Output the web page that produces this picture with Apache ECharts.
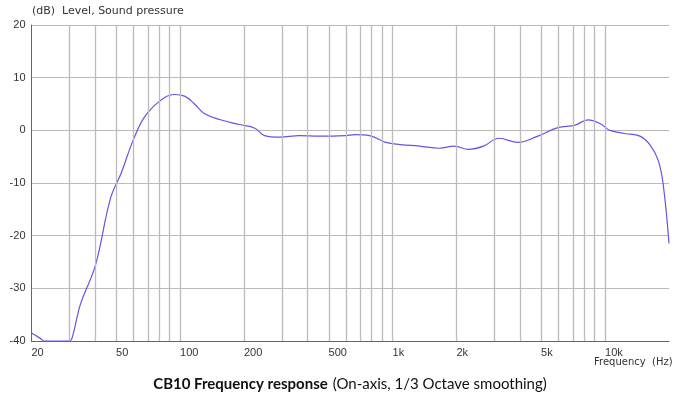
<!DOCTYPE html>
<html><head><meta charset="utf-8">
<script src="https://cdn.jsdelivr.net/npm/echarts@6/dist/echarts.min.js"></script>
<style>html,body{margin:0;padding:0;background:#fff}#c{width:700px;height:405px}</style>
</head><body><div id="c"></div>
<script>
const freqs = [20,22,23,26,30,31,34,40,47,53,60,68,80,94,105,117,130,155,190,225,250,295,365,450,600,665,780,930,1090,1340,1660,1950,2280,2680,3170,3900,4830,6000,7230,8320,9460,10540,12400,14600,16300,17800,18800,20000];
const levels = [-38.5,-39.5,-40,-40,-40,-39.5,-33,-25.6,-13,-8,-2,2.5,5.5,6.8,6.5,5,3.2,2,1.1,0.4,-1,-1.3,-1,-1.1,-1,-0.8,-1,-2.3,-2.7,-3,-3.4,-3,-3.6,-3,-1.5,-2.3,-1.1,0.5,1,2,1.3,0,-0.6,-1.1,-2.8,-5.7,-10.4,-21.5];
const gridFreqs = [30,40,50,60,70,80,90,100,200,300,400,500,600,700,800,900,1000,2000,3000,4000,5000,6000,7000,8000,9000,10000];
const labelFreqs = [20,50,100,200,500,1000,2000,5000,10000];
const labelTexts = ['20','50','100','200','500','1k','2k','5k','10k'];
const yTicks = [-40,-30,-20,-10,0,10,20];
const L = Math.log10;
const chart = echarts.init(document.getElementById('c'));
chart.setOption({
  animation:false,
  grid:{left:31.5,right:31,top:25,bottom:64},
  title:{text:'{b|CB10 Frequency response} {n|(On-axis, 1/3 Octave smoothing)}',left:'center',top:370,
    textStyle:{rich:{b:{fontSize:15,fontWeight:'bold',color:'#111',fontFamily:'Lato'},n:{fontSize:15,fontWeight:'normal',color:'#111',fontFamily:'Lato'}}}},
  graphic:[
    {type:'text',left:32,top:6,style:{text:'(dB)  Level, Sound pressure',fontSize:11,fill:'#333',fontFamily:'DejaVu Sans'}},
    {type:'text',left:594,top:357,style:{text:'Frequency  (Hz)',fontSize:10,fill:'#333',fontFamily:'DejaVu Sans'}}
  ],
  xAxis:{type:'value',min:L(20),max:L(20000),
    axisLine:{onZero:false,lineStyle:{color:'#666'}},axisTick:{show:false},splitLine:{show:false},
    axisLabel:{customValues:labelFreqs.map(L),align:'left',fontSize:11,color:'#333',margin:6,
      formatter:v=>{let i=labelFreqs.findIndex(f=>Math.abs(L(f)-v)<1e-6);return i>=0?labelTexts[i]:'';}}},
  yAxis:{type:'value',min:-40,max:20,interval:10,
    axisLine:{show:true,lineStyle:{color:'#666'}},axisTick:{show:false},
    splitLine:{lineStyle:{color:'#bbb'}},
    axisLabel:{fontSize:11,color:'#333',margin:6,customValues:yTicks}},
  series:[{type:'line',data:freqs.map((f,i)=>[L(f),levels[i]]),smooth:0.4,showSymbol:false,
    lineStyle:{color:'#6a52e8',width:1.2},
    markLine:{silent:true,symbol:'none',label:{show:false},
      lineStyle:{color:'#bbb',type:'solid',width:1.3},
      data:gridFreqs.map(f=>({xAxis:L(f)}))}}]
});
</script></body></html>
